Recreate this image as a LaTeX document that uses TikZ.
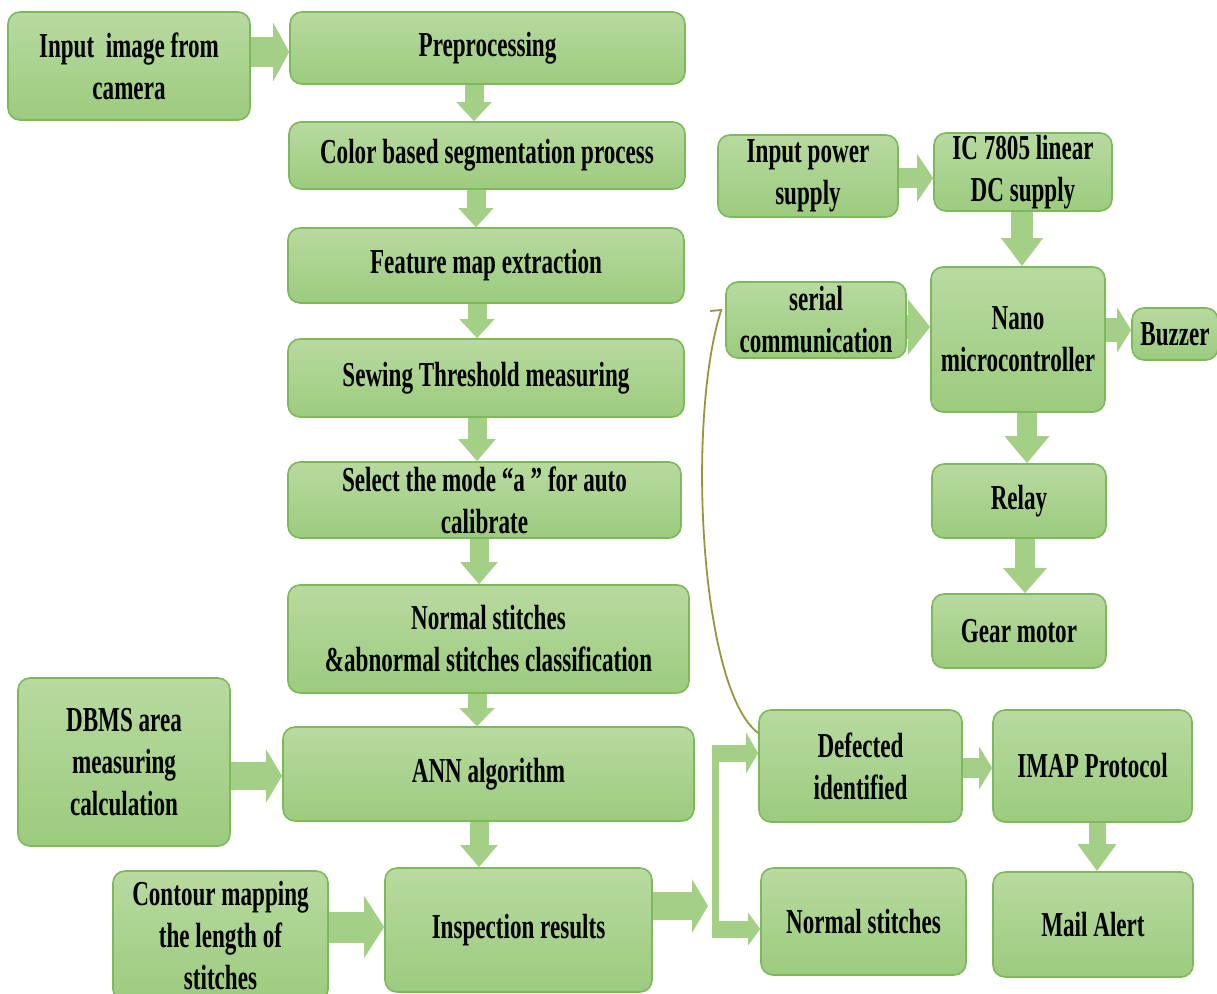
\documentclass[tikz,border=0pt]{standalone}
\usepackage{fontspec}
\setmainfont{Liberation Serif}[FakeStretch=0.66]
\usetikzlibrary{arrows.meta,calc}
\definecolor{boxtop}{RGB}{184,218,160}
\definecolor{boxbot}{RGB}{156,203,126}
\definecolor{boxborder}{RGB}{125,185,90}
\definecolor{arrowgreen}{RGB}{164,207,134}
\definecolor{curvecol}{RGB}{150,150,62}
\begin{document}
\begin{tikzpicture}[x=1pt,y=-1pt,
  box/.style 2 args={draw=boxborder, line width=1.6pt, rounded corners=12pt,
    top color=boxtop, bottom color=boxbot, align=center, inner sep=1pt,
    minimum width=#1, minimum height=#2,
    font=\fontsize{35}{42}\selectfont\bfseries},
  barr/.style n args={3}{draw=arrowgreen, line width=#1, arrowgreen,
    -{Triangle[width=#2,length=#3]}}
]
\useasboundingbox (0,0) rectangle (1217,993);
\begin{scope}
\clip (0,0) rectangle (1217,993);
% left / main column
\node[box={242pt}{108pt}] (in)   at (129,66)    {Input\ \ image from\\camera};
\node[box={395pt}{72pt}]  (pre)  at (487.5,48)  {Preprocessing};
\node[box={396pt}{67pt}]  (seg)  at (487,155.5) {Color based segmentation process};
\node[box={396pt}{75pt}]  (feat) at (486,265.5) {Feature map extraction};
\node[box={396pt}{78pt}]  (sew)  at (486,378)   {Sewing Threshold measuring};
\node[box={393pt}{76pt}]  (sel)  at (484.5,500) {Select the mode “a ” for auto\\calibrate};
\node[box={401pt}{108pt}] (cls)  at (488.5,639) {Normal stitches\\\&abnormal stitches classification};
\node[box={212pt}{168pt}] (dbms) at (124,762)   {DBMS area\\measuring\\calculation};
\node[box={411pt}{94pt}]  (ann)  at (488.5,774) {ANN algorithm};
\node[box={215pt}{130pt}] (cont) at (220.5,936) {Contour mapping\\the length of\\stitches};
\node[box={267pt}{124pt}] (insp) at (518.5,930) {Inspection results};
% right lower
\node[box={203pt}{112pt}] (def)  at (860.5,766)  {Defected\\identified};
\node[box={205pt}{107pt}] (nrm)  at (863.5,921.5){Normal stitches};
\node[box={199pt}{112pt}] (imap) at (1092.5,766) {IMAP Protocol};
\node[box={200pt}{105pt}] (mail) at (1093,924.5) {Mail Alert};
% right upper
\node[box={180pt}{82pt}]  (ips)  at (808,176)    {Input power\\supply};
\node[box={178pt}{78pt}]  (ic)   at (1023,172)   {IC 7805 linear\\DC supply};
\node[box={180pt}{76pt}]  (ser)  at (816,320)    {serial\\communication};
\node[box={174pt}{145pt}] (nano) at (1018,339.5) {Nano\\microcontroller};
\node[box={86pt}{52pt}]   (buz)  at (1175,334)   {Buzzer};
\node[box={174pt}{74pt}]  (relay) at (1019,501)  {Relay};
\node[box={174pt}{74pt}]  (gear) at (1019,631)   {Gear motor};

% helper lines
\coordinate (v1) at (474,0);
\coordinate (v2) at (476,0);
\coordinate (v3) at (477,0);
\coordinate (v4) at (479,0);
\coordinate (v5) at (1022,0);
\coordinate (v6) at (1027,0);
\coordinate (v7) at (1025,0);
\coordinate (v8) at (1097,0);
\coordinate (h1) at (0,52);
\coordinate (h2) at (0,178);
\coordinate (h3) at (0,327);
\coordinate (h4) at (0,330);
\coordinate (h5) at (0,776);
\coordinate (h6) at (0,927);
\coordinate (h7) at (0,768);
\coordinate (fk) at (708,906);
\coordinate (ft) at (715,753);
\coordinate (fb) at (715,929);

% main column arrows
\draw[barr={19pt}{34pt}{19pt}] (pre.south -| v1) -- (seg.north -| v1);
\draw[barr={19pt}{34pt}{19pt}] (seg.south -| v2) -- (feat.north -| v2);
\draw[barr={19pt}{34pt}{19pt}] (feat.south -| v3) -- (sew.north -| v3);
\draw[barr={19pt}{36pt}{22pt}] (sew.south -| v3) -- (sel.north -| v3);
\draw[barr={19pt}{36pt}{22pt}] (sel.south -| v4) -- (cls.north -| v4);
\draw[barr={19pt}{34pt}{18pt}] (cls.south -| v3) -- (ann.north -| v3);
\draw[barr={19pt}{36pt}{22pt}] (ann.south -| v4) -- (insp.north -| v4);
% side arrows
\draw[barr={30pt}{58pt}{16pt}] (in.east |- h1) -- (pre.west |- h1);
\draw[barr={28pt}{52pt}{16pt}] (dbms.east |- h5) -- (ann.west |- h5);
\draw[barr={31pt}{61pt}{20pt}] (cont.east |- h6) -- (insp.west |- h6);
\draw[barr={28pt}{53pt}{16pt}] (insp.east |- fk) -- (fk);
% fork
\draw[line width=7pt, arrowgreen] ([yshift=8pt]ft) -- ([yshift=-8pt]fb);
\draw[barr={17pt}{40pt}{12pt}] ([xshift=-3.5pt]ft) -- (ft -| def.west);
\draw[barr={17pt}{32pt}{12pt}] ([xshift=-3.5pt]fb) -- (fb -| nrm.west);
% right side arrows
\draw[barr={20pt}{47pt}{16pt}] (ips.east |- h2) -- (ic.west |- h2);
\draw[barr={22pt}{40pt}{28pt}] (ic.south -| v5) -- (nano.north -| v5);
\draw[barr={24pt}{54pt}{22pt}] (ser.east |- h3) -- (nano.west |- h3);
\draw[barr={24pt}{44pt}{14pt}] (nano.east |- h4) -- (buz.west |- h4);
\draw[barr={20pt}{43pt}{27pt}] (nano.south -| v6) -- (relay.north -| v6);
\draw[barr={20pt}{42pt}{25pt}] (relay.south -| v7) -- (gear.north -| v7);
\draw[barr={20pt}{42pt}{13pt}] (def.east |- h7) -- (imap.west |- h7);
\draw[barr={17pt}{37pt}{27pt}] (imap.south -| v8) -- (mail.north -| v8);
% feedback curve
\draw[curvecol, line width=1.8pt]
  ([yshift=33pt]def.west) .. controls (700,690) and (686,420) .. ([xshift=-4pt,yshift=10pt]ser.west)
  -- ([xshift=-15pt,yshift=9pt]ser.west);
\end{scope}
\end{tikzpicture}
\end{document}
